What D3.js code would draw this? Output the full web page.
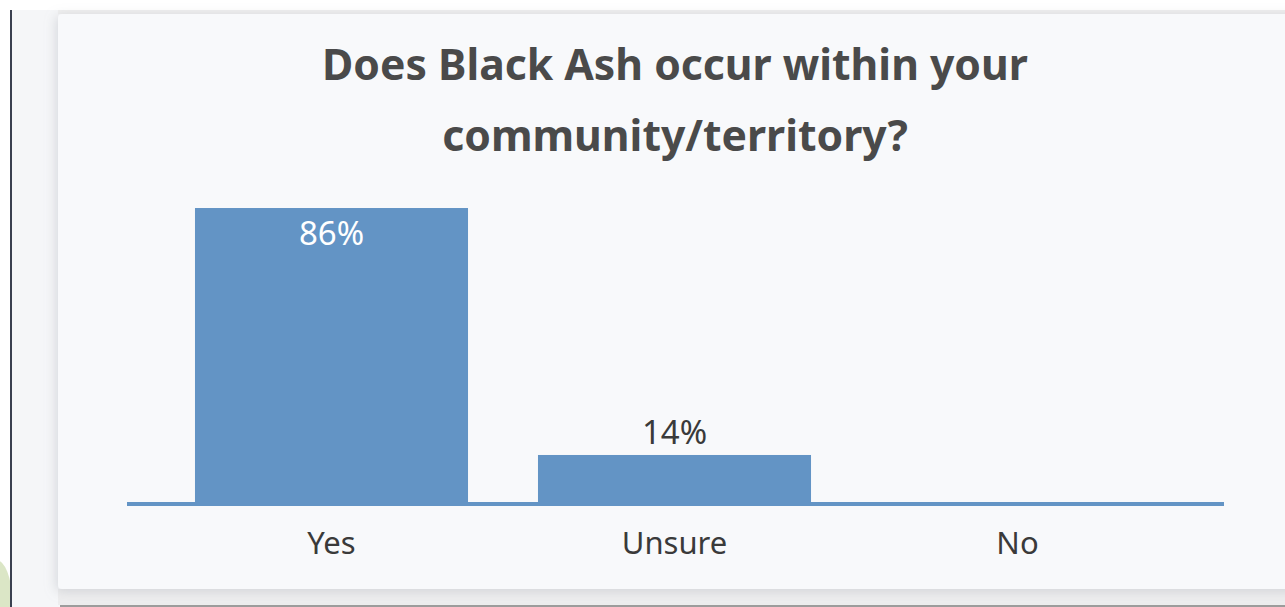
<!DOCTYPE html>
<html>
<head>
<meta charset="utf-8">
<script src="https://cdn.jsdelivr.net/npm/d3@7"></script>
<style>
  html, body { margin: 0; padding: 0; background: #fff; overflow: hidden; }
  svg { display: block; font-family: "Noto Sans", sans-serif; }
</style>
</head>
<body>
<svg id="chart"></svg>
<script>
const titleLines = ["Does Black Ash occur within your", "community/territory?"];
const categories = ["Yes", "Unsure", "No"];
const percents = [86, 14, 0];

const W = 1285, H = 607;
const svg = d3.select("#chart").attr("width", W).attr("height", H);

// page background pieces
svg.append("rect").attr("width", W).attr("height", H).attr("fill", "#fff");
svg.append("ellipse").attr("cx", -4).attr("cy", 600).attr("rx", 16).attr("ry", 40).attr("fill", "#dbe6c6");
svg.append("rect").attr("x", 11).attr("y", 10).attr("width", W - 11).attr("height", H - 10).attr("fill", "#f5f6f8");
svg.append("rect").attr("x", 58).attr("y", 10).attr("width", W - 58).attr("height", 4).attr("fill", "#efefef");
svg.append("rect").attr("x", 58).attr("y", 589).attr("width", W - 58).attr("height", 16).attr("fill", "#ededee");
svg.append("rect").attr("x", 60).attr("y", 605).attr("width", W - 60).attr("height", 2).attr("fill", "#9c9c9c");
svg.append("rect").attr("x", 10).attr("y", 10).attr("width", 2).attr("height", H - 10).attr("fill", "#3a4050");

const defs = svg.append("defs");
const f = defs.append("filter").attr("id", "shadow")
    .attr("x", "-5%").attr("y", "-5%").attr("width", "110%").attr("height", "110%");
f.append("feDropShadow").attr("dx", -2).attr("dy", 2).attr("stdDeviation", 6)
    .attr("flood-color", "#9aa0a8").attr("flood-opacity", 0.35);

svg.append("rect")
    .attr("x", 58).attr("y", 14).attr("width", W - 58 + 20).attr("height", 575)
    .attr("rx", 4)
    .attr("fill", "#f8f9fb")
    .attr("filter", "url(#shadow)");

// title
const title = svg.append("g");
const titleY = [80, 151];
titleLines.forEach((t, i) => {
    title.append("text")
        .attr("x", 675).attr("y", titleY[i])
        .attr("text-anchor", "middle")
        .attr("font-size", 40)
        .attr("font-weight", "bold")
        .attr("fill", "#4a4a4a")
        .text(t);
});
// fit the first line to the reference width
const w0 = title.select("text").node().getComputedTextLength();
title.selectAll("text").attr("font-size", 40 * 706 / w0);

// scales
const x = d3.scaleBand()
    .domain(categories)
    .range([160, 1189])
    .paddingInner(0.204)
    .paddingOuter(0.102);

const y = d3.scaleLinear()
    .domain([0, 100])
    .range([503, 160]);

// bars
svg.append("g").selectAll("rect")
    .data(categories)
    .join("rect")
    .attr("x", d => x(d))
    .attr("y", (d, i) => y(percents[i]))
    .attr("width", x.bandwidth())
    .attr("height", (d, i) => y(0) - y(percents[i]))
    .attr("fill", "#6394c5");

// baseline
svg.append("line")
    .attr("x1", 127).attr("x2", 1224)
    .attr("y1", y(0) + 1).attr("y2", y(0) + 1)
    .attr("stroke", "#6394c5")
    .attr("stroke-width", 4);

// value labels
svg.append("g").selectAll("text")
    .data(categories.filter((d, i) => percents[i] > 0))
    .join("text")
    .attr("x", d => x(d) + x.bandwidth() / 2)
    .attr("y", d => {
        const v = percents[categories.indexOf(d)];
        return v > 30 ? y(v) + 37 : y(v) - 11;
    })
    .attr("text-anchor", "middle")
    .attr("font-size", 33)
    .attr("fill", d => percents[categories.indexOf(d)] > 30 ? "#fff" : "#3a3a3a")
    .text(d => percents[categories.indexOf(d)] + "%");

// category axis
const xAxis = svg.append("g")
    .attr("transform", `translate(0, ${y(0)})`)
    .call(d3.axisBottom(x).tickSize(0).tickPadding(0));
xAxis.select(".domain").remove();
xAxis.selectAll(".tick text")
    .attr("dy", 0)
    .attr("y", 51)
    .attr("font-size", 31)
    .attr("font-family", "Noto Sans, sans-serif")
    .attr("fill", "#3a3a3a");
</script>
</body>
</html>
